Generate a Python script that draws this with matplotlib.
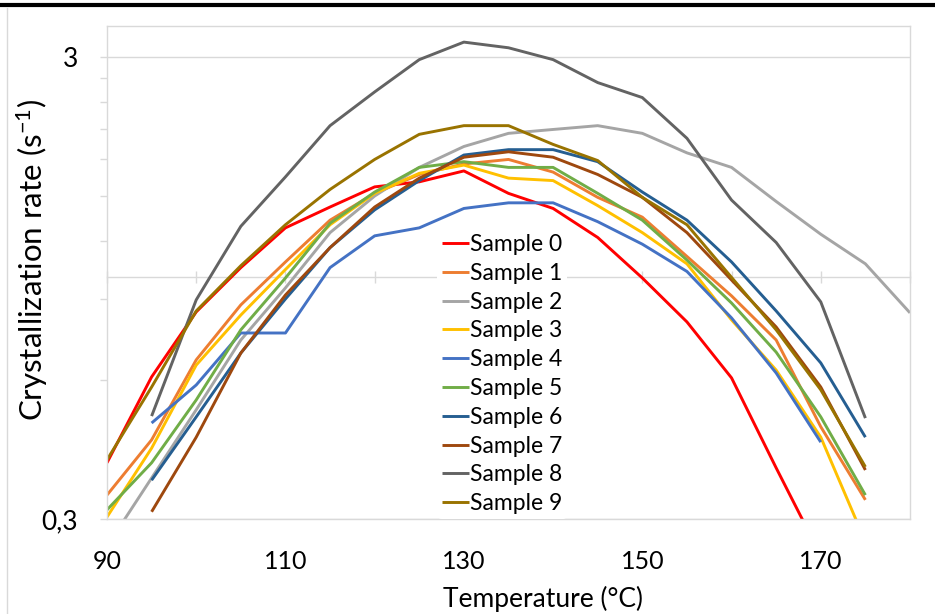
import numpy as np
import matplotlib
matplotlib.use("Agg")
import matplotlib.pyplot as plt
from matplotlib.lines import Line2D
from matplotlib.ticker import FixedLocator, FixedFormatter, NullFormatter

plt.rcParams['font.family'] = ['Lato', 'DejaVu Sans']
plt.rcParams['mathtext.fontset'] = 'custom'
plt.rcParams['mathtext.rm'] = 'Lato'

# temperatures (°C)
temps = list(range(90, 185, 5))

# crystallization rates (s^-1); None = no point
s0 = [0.397, 0.609, 0.842, 1.05, 1.28, 1.42, 1.57, 1.61, 1.70, 1.52, 1.41, 1.22, 0.997, 0.801, 0.606, 0.387, 0.25, None, None]
s1 = [0.338, 0.445, 0.663, 0.872, 1.08, 1.33, 1.52, 1.67, 1.76, 1.80, 1.69, 1.49, 1.35, 1.11, 0.912, 0.732, 0.475, 0.330, None]
s2 = [0.262, 0.368, 0.517, 0.732, 0.949, 1.25, 1.50, 1.73, 1.92, 2.05, 2.09, 2.13, 2.05, 1.86, 1.73, 1.46, 1.24, 1.07, 0.838]
s3 = [0.303, 0.427, 0.646, 0.829, 1.04, 1.30, 1.52, 1.68, 1.75, 1.64, 1.62, 1.43, 1.25, 1.07, 0.809, 0.630, 0.451, 0.268, None]
s4 = [None, 0.484, 0.585, 0.758, 0.758, 1.05, 1.23, 1.28, 1.41, 1.45, 1.45, 1.32, 1.18, 1.03, 0.817, 0.621, 0.440, None, None]
s5 = [0.314, 0.397, 0.543, 0.770, 0.997, 1.31, 1.53, 1.73, 1.78, 1.73, 1.73, 1.52, 1.33, 1.09, 0.880, 0.689, 0.499, 0.338, None]
s6 = [None, 0.364, 0.499, 0.686, 0.898, 1.16, 1.40, 1.62, 1.84, 1.89, 1.89, 1.78, 1.53, 1.33, 1.08, 0.846, 0.653, 0.451, None]
s7 = [None, 0.311, 0.451, 0.686, 0.916, 1.16, 1.42, 1.64, 1.82, 1.87, 1.82, 1.67, 1.49, 1.25, 0.987, 0.781, 0.579, 0.383, None]
s8 = [None, 0.501, 0.894, 1.29, 1.65, 2.13, 2.52, 2.96, 3.23, 3.14, 2.96, 2.64, 2.45, 2.00, 1.47, 1.19, 0.885, 0.496, None]
s9 = [0.403, 0.579, 0.846, 1.06, 1.30, 1.55, 1.80, 2.04, 2.13, 2.13, 1.94, 1.79, 1.49, 1.30, 1.00, 0.770, 0.571, 0.389, None]

series = [s0, s1, s2, s3, s4, s5, s6, s7, s8, s9]
names = ['Sample %d' % i for i in range(10)]
colors = ['#FF0000', '#ED7D31', '#A5A5A5', '#FFC000', '#4472C4',
          '#70AD47', '#255E91', '#9E480E', '#636363', '#997300']

xtick_vals = [90, 110, 130, 150, 170]
ytick_vals = [0.3, 3]
ytick_labels = ['0,3', '3']
yminor_vals = [0.6, 0.9, 1.2, 1.5, 1.8, 2.1, 2.4, 2.7]

grid_c = '#D9D9D9'

fig = plt.figure(figsize=(9.35, 6.14), dpi=100)
ax = fig.add_axes([107/935, 95/614, 803/935, 493/614])

for vals, name, c in zip(series, names, colors):
    y = np.array([np.nan if v is None else v for v in vals], dtype=float)
    ax.plot(temps, y, color=c, lw=2.1, label=name, solid_capstyle='butt')

ax.set_yscale('log')
ax.set_xlim(90, 180)
ax.set_ylim(0.3, 3.5)

ax.yaxis.set_major_locator(FixedLocator(ytick_vals))
ax.yaxis.set_major_formatter(FixedFormatter(ytick_labels))
ax.yaxis.set_minor_locator(FixedLocator(yminor_vals))
ax.yaxis.set_minor_formatter(NullFormatter())
ax.tick_params(axis='y', which='both', direction='out', length=5, width=1,
               color=grid_c, labelsize=19, pad=16)
ax.set_xticks(xtick_vals)
ax.tick_params(axis='x', length=0, labelsize=18, pad=22)
ax.yaxis.grid(True, which='major', color=grid_c, lw=1)

for sp in ax.spines.values():
    sp.set_color(grid_c)
    sp.set_linewidth(1)

# horizontal axis crossing at y = 1
sec = ax.secondary_xaxis(1.0, transform=ax.transData)
sec.set_xticks(range(90, 181, 10))
sec.tick_params(direction='in', length=4, width=1, color=grid_c,
                labelbottom=False, labeltop=False, top=True, bottom=True)
for sp in sec.spines.values():
    sp.set_color(grid_c)
    sp.set_linewidth(1)

ax.set_xlabel('Temperature (°C)', fontsize=19)
ax.xaxis.set_label_coords(0.543, -0.135)
ax.set_ylabel('Crystallization rate (s$\\mathregular{^{-1}}$)', fontsize=22.5)
ax.yaxis.set_label_coords(-0.071, 0.525)

leg = ax.legend(loc='center', bbox_to_anchor=(0.492, 0.294), frameon=True,
                fontsize=16.5, handlelength=1.2, handletextpad=0.05,
                labelspacing=0.34, borderpad=0.2, borderaxespad=0)
leg.get_frame().set_edgecolor('none')
leg.get_frame().set_facecolor('white')
leg.get_frame().set_alpha(1)

# page rule and chart border
fig.add_artist(Line2D([0, 1], [1 - 5/614, 1 - 5/614], color='black', lw=3))
fig.add_artist(Line2D([7/935, 7/935], [0, 1 - 8/614], color=grid_c, lw=1))

fig.savefig('out.png', dpi=100)
